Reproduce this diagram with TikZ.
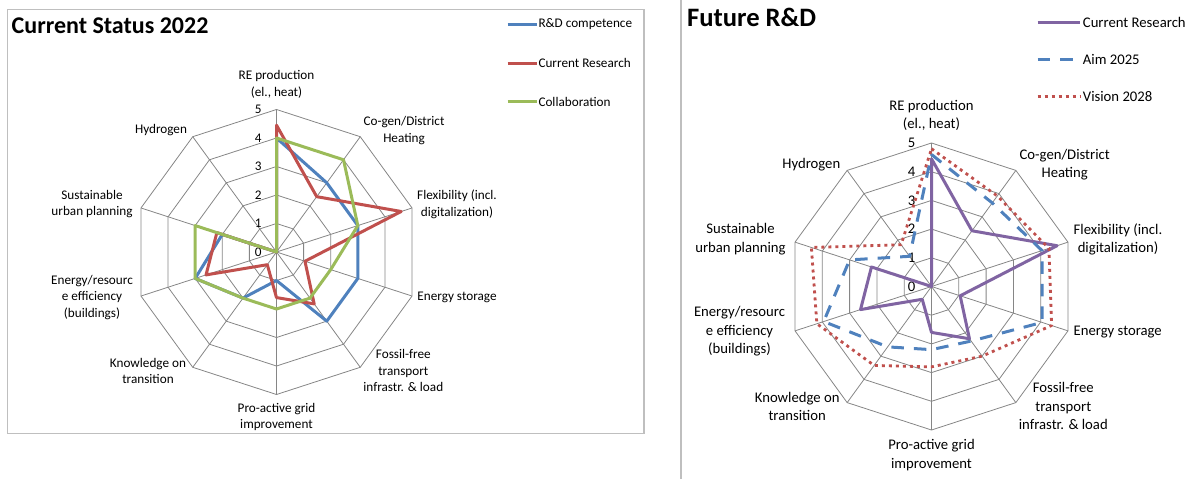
\documentclass[tikz,border=0pt]{standalone}
\usepackage{fontspec}
\setmainfont{Carlito}
\definecolor{webgray}{HTML}{868686}
\definecolor{framegray}{HTML}{BFBFBF}
\definecolor{rdblue}{HTML}{4F81BD}
\definecolor{rdred}{HTML}{C0504D}
\definecolor{rdgreen}{HTML}{9BBB59}
\definecolor{rdpurple}{HTML}{8064A2}
\begin{document}
\begin{tikzpicture}[x=1pt, y=-1pt,
  web/.style={webgray, line width=0.8pt},
  series/.style={line width=3pt, line join=round},
  aim/.style={series, rdblue, dash pattern=on 12.5pt off 10pt},
  vision/.style={series, rdred, line width=2.8pt, dash pattern=on 3pt off 4pt},
  axistext/.style={font=\fontsize{13.2}{16.4}\selectfont, align=center, inner sep=0pt},
  axistextbig/.style={font=\fontsize{14.7}{18.4}\selectfont, align=center, inner sep=0pt},
  heading/.style={font=\bfseries\fontsize{24}{29}\selectfont, inner sep=0pt, anchor=base west}
]
  \useasboundingbox (0,0) rectangle (1196,479);

  % frame of the left chart and the divider
  \draw[framegray, line width=1.3pt] (7.5,9.5) rectangle (644,433.5);
  \draw[framegray, line width=1.3pt] (681,0) -- (681,479);

  % titles
  \node[heading] (ttlnow) at (11.5,33.3) {Current Status 2022};
  \node[heading, font=\bfseries\fontsize{26.6}{32}\selectfont] (ttlfut) at (687,26) {Future R\&D};

  % ---- Current Status 2022: web, ticks and series
  \begin{scope}[shift={(276.5,252)}]
    \foreach \k in {1,...,5}
      \draw[web] (0,{-28.5*\k}) \foreach \i in {1,...,9} { -- ({28.5*\k*sin(36*\i)},{-28.5*\k*cos(36*\i)}) } -- cycle;
    \foreach \i in {0,...,9}
      \draw[web] (0,0) -- ({142.5*sin(36*\i)},{-142.5*cos(36*\i)});
    \foreach \k in {0,...,5}
      \node[axistext] (nowtick\k) at (-18.2,{-28.5*\k}) {\k};

    % R&D competence
    \foreach \v [count=\i from 0] in {4,3,3,3,3,1,2,3,2,0}
      \coordinate (rd\i) at ({28.5*\v*sin(36*\i)},{-28.5*\v*cos(36*\i)});
    \draw[series, rdblue] (rd0) \foreach \i in {1,...,9} { -- (rd\i) } -- cycle;
    % current research
    \foreach \v [count=\i from 0] in {4.45,2.4,4.6,1.05,2.25,1.6,0.55,2.6,2.2,0}
      \coordinate (cr\i) at ({28.5*\v*sin(36*\i)},{-28.5*\v*cos(36*\i)});
    \draw[series, rdred] (cr0) \foreach \i in {1,...,9} { -- (cr\i) } -- cycle;
    % collaboration
    \foreach \v [count=\i from 0] in {4,4,3,2,2,2,2,3,3,0}
      \coordinate (co\i) at ({28.5*\v*sin(36*\i)},{-28.5*\v*cos(36*\i)});
    \draw[series, rdgreen] (co0) \foreach \i in {1,...,9} { -- (co\i) } -- cycle;
  \end{scope}

  % axis names, left
  \node[axistext] (nowre) at (276.5,84.5) {RE production\\(el., heat)};
  \node[axistext] (nowcg) at (404,130.6) {Co-gen/District\\Heating};
  \node[axistext] (nowfl) at (457,204.3) {Flexibility (incl.\\digitalization)};
  \node[axistext] (nowes) at (457,297.3) {Energy storage};
  \node[axistext] (nowff) at (403.3,370.7) {Fossil-free\\transport\\infrastr. \& load};
  \node[axistext] (nowpa) at (276.5,417) {Pro-active grid\\improvement};
  \node[axistext] (nowkn) at (148,371) {Knowledge on\\transition};
  \node[axistext] (nowee) at (92,297.3) {Energy/resourc\\e efficiency\\(buildings)};
  \node[axistext] (nowsu) at (92,204.3) {Sustainable\\urban planning};
  \node[axistext] (nowhy) at (161,130.3) {Hydrogen};

  % legend, left
  \foreach \y/\c/\t [count=\n] in {24.3/rdblue/R\&D competence, 63/rdred/Current Research, 101.7/rdgreen/Collaboration} {
    \coordinate (nowkey\n) at (507.5,\y);
    \node[axistext, anchor=west, inner xsep=1.3pt] (nowentry\n) at (537,\y) {\t};
    \draw[series, \c] (nowkey\n) -- (nowentry\n.west);
  }

  % ---- Future R&D: web, ticks and series
  \begin{scope}[shift={(931.5,286.5)}]
    \foreach \k in {1,...,5}
      \draw[web] (0,{-28.7*\k}) \foreach \i in {1,...,9} { -- ({28.7*\k*sin(36*\i)},{-28.7*\k*cos(36*\i)}) } -- cycle;
    \foreach \i in {0,...,9}
      \draw[web] (0,0) -- ({143.5*sin(36*\i)},{-143.5*cos(36*\i)});
    \foreach \k in {0,...,5}
      \node[axistextbig] (futtick\k) at (-19.8,{-28.7*\k}) {\k};

    % current research
    \foreach \v [count=\i from 0] in {4.45,2.4,4.6,1.05,2.25,1.6,0.55,2.6,2.2,0}
      \coordinate (fc\i) at ({28.7*\v*sin(36*\i)},{-28.7*\v*cos(36*\i)});
    \draw[series, rdpurple] (fc0) \foreach \i in {1,...,9} { -- (fc\i) } -- cycle;
    % aim 2025
    \foreach \v [count=\i from 0] in {4.6,3.6,4.05,4.05,2.35,2.2,2.6,3.95,3,1.3}
      \coordinate (fa\i) at ({28.7*\v*sin(36*\i)},{-28.7*\v*cos(36*\i)});
    \draw[aim] (fa0) \foreach \i in {1,...,9} { -- (fa\i) } -- cycle;
    % vision 2028
    \foreach \v [count=\i from 0] in {4.8,3.9,4.3,4.4,3,2.8,3.4,4.2,4.4,1.8}
      \coordinate (fv\i) at ({28.7*\v*sin(36*\i)},{-28.7*\v*cos(36*\i)});
    \draw[vision] (fv0) \foreach \i in {1,...,9} { -- (fv\i) } -- cycle;
  \end{scope}

  % axis names, right
  \node[axistextbig] (futre) at (931.5,115.5) {RE production\\(el., heat)};
  \node[axistextbig] (futcg) at (1064.7,164.8) {Co-gen/District\\Heating};
  \node[axistextbig] (futfl) at (1118,239.2) {Flexibility (incl.\\digitalization)};
  \node[axistextbig] (futes) at (1117.7,331.7) {Energy storage};
  \node[axistextbig] (futff) at (1063.3,406) {Fossil-free\\transport\\infrastr. \& load};
  \node[axistextbig] (futpa) at (931.5,455.2) {Pro-active grid\\improvement};
  \node[axistextbig] (futkn) at (797.2,406.2) {Knowledge on\\transition};
  \node[axistextbig] (futee) at (739.5,331.5) {Energy/resourc\\e efficiency\\(buildings)};
  \node[axistextbig] (futsu) at (740.5,239.2) {Sustainable\\urban planning};
  \node[axistextbig] (futhy) at (811.3,164.3) {Hydrogen};

  % legend, right
  \coordinate (futkey1) at (1037.7,22.3);
  \coordinate (futkey2) at (1037.7,59.3);
  \coordinate (futkey3) at (1037.7,96.3);
  \node[axistextbig, anchor=west, inner xsep=2.7pt] (futentry1) at (1080,22.3) {Current Research};
  \node[axistextbig, anchor=west, inner xsep=2.7pt] (futentry2) at (1080,59.3) {Aim 2025};
  \node[axistextbig, anchor=west, inner xsep=2.7pt] (futentry3) at (1080,96.3) {Vision 2028};
  \draw[series, rdpurple] (futkey1) -- (futentry1.west);
  \draw[aim] (futkey2) -- (futentry2.west);
  \draw[vision] (futkey3) -- (futentry3.west);
\end{tikzpicture}
\end{document}
